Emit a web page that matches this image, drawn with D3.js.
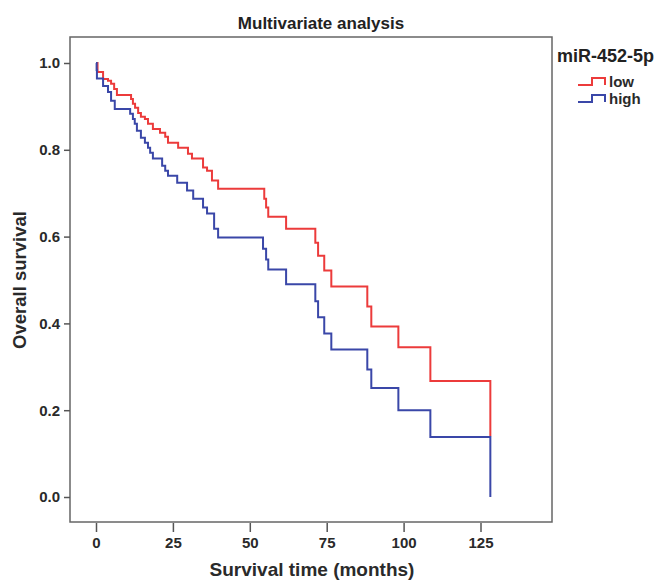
<!DOCTYPE html>
<html>
<head>
<meta charset="utf-8">
<script src="https://cdn.jsdelivr.net/npm/d3@7"></script>
<style>
  body { margin: 0; background: #fff; }
  svg { font-family: "Liberation Sans", Arial, sans-serif; }
  .axis text { font-size: 15px; font-weight: bold; fill: #2a2a2a; }
  .axis line { stroke: #555; stroke-width: 1.5; }
</style>
</head>
<body>
<svg width="665" height="580"></svg>
<script>
// survival step data: [time in months, survival after the drop]
const lowTimes = [0, 0.5, 2.3, 3.9, 4.9, 5.9, 6.8, 11.4, 12.0, 12.7, 13.7, 14.6, 15.9, 16.9, 18.5, 20.8, 22.5, 23.4, 26.7, 29.9, 31.2, 34.8, 36.1, 37.7, 39.7, 54.7, 55.3, 56.0, 61.8, 71.3, 72.2, 74.2, 76.5, 88.2, 89.5, 98.3, 108.7, 128.2]
const lowSurv = [1.0, 0.979, 0.963, 0.959, 0.952, 0.940, 0.926, 0.917, 0.906, 0.897, 0.885, 0.876, 0.871, 0.860, 0.848, 0.839, 0.830, 0.816, 0.805, 0.791, 0.780, 0.759, 0.752, 0.729, 0.710, 0.687, 0.667, 0.646, 0.618, 0.586, 0.556, 0.522, 0.485, 0.439, 0.393, 0.345, 0.267, 0.140]
const highTimes = [0, 0.2, 0.3, 2.3, 3.9, 4.9, 6.1, 11.1, 12.0, 12.6, 13.3, 14.6, 15.9, 16.9, 17.6, 18.5, 21.5, 22.5, 23.4, 26.4, 29.6, 31.6, 34.8, 36.1, 38.4, 39.7, 54.3, 55.3, 56.0, 61.8, 71.3, 72.2, 74.2, 76.5, 88.2, 89.5, 98.3, 108.7, 128.2]
const highSurv = [1.0, 0.984, 0.964, 0.947, 0.933, 0.913, 0.894, 0.883, 0.871, 0.860, 0.844, 0.828, 0.816, 0.805, 0.793, 0.780, 0.763, 0.752, 0.740, 0.724, 0.706, 0.687, 0.667, 0.653, 0.618, 0.598, 0.572, 0.547, 0.524, 0.490, 0.451, 0.414, 0.377, 0.340, 0.294, 0.251, 0.200, 0.138, 0.0]
const xTicks = [0, 25, 50, 75, 100, 125]
const yTicks = [0, 0.2, 0.4, 0.6, 0.8, 1.0]
const groups = ['low', 'high']
const colors = {low: '#ec3b3b', high: '#3a47a8'}

const svg = d3.select('svg'),
    box = {left: 70, right: 552, top: 37, bottom: 522},
    x = d3.scaleLinear().domain([0, 125]).range([96, 480.5]),
    y = d3.scaleLinear().domain([0, 1]).range([497, 63])

// frame
svg.append('rect')
    .attr('x', box.left).attr('y', box.top)
    .attr('width', box.right - box.left).attr('height', box.bottom - box.top)
    .attr('fill', 'none').attr('stroke', '#666').attr('stroke-width', 1.5)

const xAxis = svg.append('g')
    .attr('class', 'axis')
    .attr('transform', 'translate(0,' + (box.bottom + 1) + ')')
    .call(d3.axisBottom(x).tickValues(xTicks).tickSize(9).tickPadding(5))
xAxis.select('.domain').remove()

const yAxis = svg.append('g')
    .attr('class', 'axis')
    .attr('transform', 'translate(' + box.left + ',0)')
    .call(d3.axisLeft(y).tickValues(yTicks).tickSize(6).tickPadding(4).tickFormat(d3.format('.1f')))
yAxis.select('.domain').remove()

// curves
const line = d3.line().curve(d3.curveStepAfter).x(d => x(d[0])).y(d => y(d[1]))
const series = {
  low: lowTimes.map((t, i) => [t, lowSurv[i]]),
  high: highTimes.map((t, i) => [t, highSurv[i]])
}
groups.forEach(g => {
  svg.append('path')
    .datum(series[g])
    .attr('d', line)
    .attr('fill', 'none')
    .attr('stroke', colors[g])
    .attr('stroke-width', 2)
})

// titles
svg.append('text')
    .attr('x', 321).attr('y', 29)
    .attr('text-anchor', 'middle')
    .style('font-size', '17px').style('font-weight', 'bold').style('fill', '#222')
    .text('Multivariate analysis')

svg.append('text')
    .attr('x', 312).attr('y', 576)
    .attr('text-anchor', 'middle')
    .style('font-size', '19px').style('font-weight', 'bold').style('fill', '#2a2a2a')
    .text('Survival time (months)')

svg.append('text')
    .attr('transform', 'translate(26,280) rotate(-90)')
    .attr('text-anchor', 'middle')
    .style('font-size', '18.5px').style('font-weight', 'bold').style('fill', '#2a2a2a')
    .text('Overall survival')

// legend
svg.append('text')
    .attr('x', 557).attr('y', 62)
    .style('font-size', '18px').style('font-weight', 'bold').style('fill', '#222')
    .text('miR-452-5p')

groups.forEach((g, i) => {
  const yy = 85 + i * 17
  svg.append('path')
    .attr('d', `M578,${yy} H592 V${yy - 7} H605 V${yy}`)
    .attr('fill', 'none').attr('stroke', colors[g]).attr('stroke-width', 2)
  svg.append('text')
    .attr('x', 609).attr('y', yy + 2)
    .style('font-size', '15px').style('font-weight', 'bold').style('fill', '#2a2a2a')
    .text(g)
})
</script>
</body>
</html>
